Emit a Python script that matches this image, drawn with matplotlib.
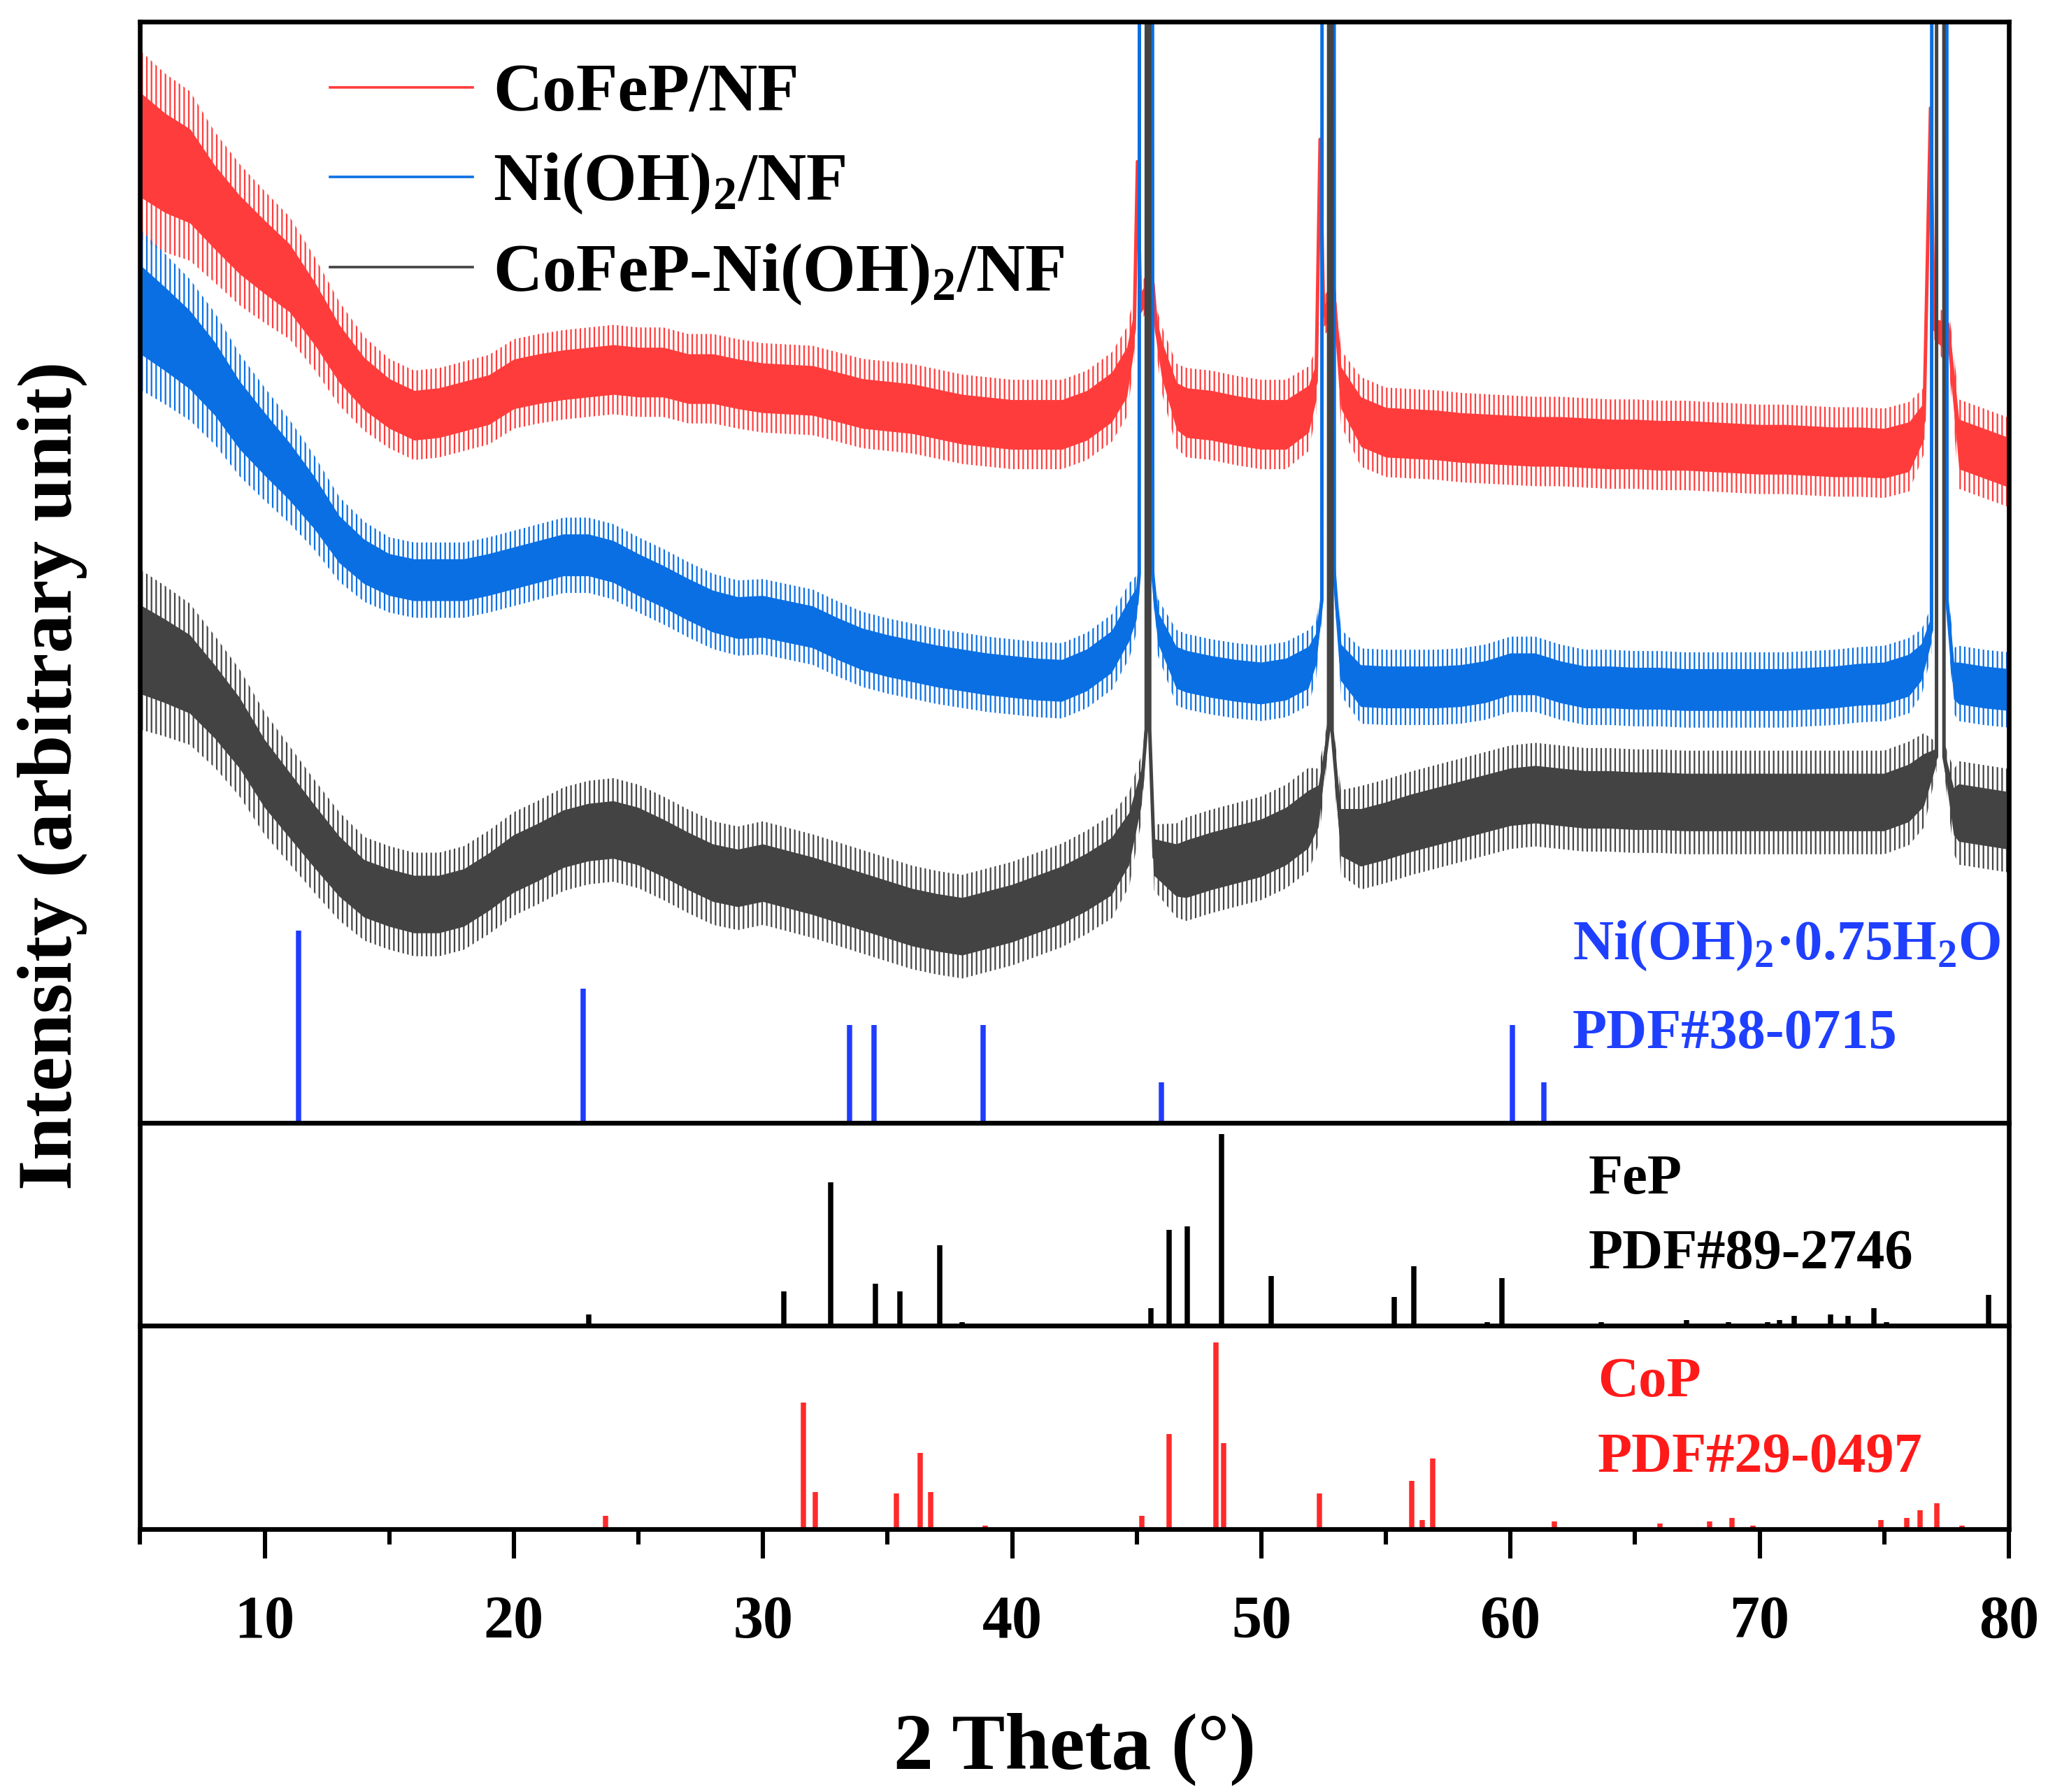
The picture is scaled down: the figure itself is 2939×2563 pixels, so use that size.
import numpy as np
import matplotlib
matplotlib.use("Agg")
import matplotlib.pyplot as plt
from matplotlib.lines import Line2D
from matplotlib.ticker import MultipleLocator

# 字体：Times 风格加粗
plt.rcParams['font.family'] = ['Liberation Serif', 'DejaVu Serif']
plt.rcParams['font.weight'] = 'bold'
plt.rcParams['axes.labelweight'] = 'bold'
plt.rcParams['mathtext.fontset'] = 'custom'
plt.rcParams['mathtext.rm'] = 'Liberation Serif:bold'
plt.rcParams['mathtext.it'] = 'Liberation Serif:bold'
plt.rcParams['mathtext.bf'] = 'Liberation Serif:bold'
plt.rcParams['hatch.linewidth'] = 0.8

# ---------------- 数据 ----------------
# CoFeP/NF
red_x = [5, 6, 7, 8, 9, 10, 11, 12, 13, 14, 15, 16, 17, 18, 19, 20, 21, 22, 23, 24,
         25, 26, 27, 28, 29, 30, 31, 32, 33, 34, 35, 36, 37, 38, 39, 40, 41, 42, 43, 44,
         44.6, 44.9, 45.03, 45.15, 45.65, 45.8, 46.0, 46.6,
         47, 48, 49, 50, 51,
         51.9, 52.2, 52.36, 52.5, 52.95, 53.2,
         54, 55, 56, 57, 58, 59, 60, 61, 62, 63, 64, 65, 66, 67, 68, 69, 70, 71, 72, 73, 74, 75, 76,
         76.6, 76.86, 77.0, 77.6,
         78, 79, 80]
red_y = [748, 734, 724, 700, 679, 662, 646, 619, 588, 565, 550, 541, 543, 548, 553, 565, 569, 572, 574, 576,
         574, 574, 569, 569, 565, 562, 561, 560, 555, 550, 548, 546, 542, 538, 536, 534, 534, 534, 541, 555,
         574, 607, 735, 627, 642, 605, 584, 548,
         543, 541, 537, 534, 534,
         546, 567, 752, 617, 627, 562,
         536, 528, 527, 526, 524, 523, 522, 521, 521, 520, 519, 519, 518, 518, 517, 516, 515, 515, 514, 513, 513, 512, 517,
         537, 776, 607, 600,
         519, 512, 505]
red_noise = ([40, 38, 36, 32, 30, 28, 26, 24, 22, 20] + [19] * 30
             + [19, 14, 3, 8, 8, 10, 14, 18] + [19] * 5
             + [18, 14, 3, 8, 10, 16] + [19] * 23
             + [14, 3, 8, 12] + [19] * 3)

# Ni(OH)2/NF
blue_x = [5, 6, 7, 8, 9, 10, 11, 12, 13, 14, 15, 16, 17, 18, 19, 20, 21, 22, 23, 24,
          25, 26, 27, 28, 29, 30, 31, 32, 33, 34, 35, 36, 37, 38, 39, 40, 41, 42, 43, 44,
          44.7, 45.0, 45.1, 45.14, 45.37, 45.6, 45.64, 45.85, 46.6,
          47, 48, 49, 50, 51,
          51.9, 52.2, 52.43, 52.47, 52.68, 52.89, 52.93, 53.2,
          54, 55, 56, 57, 58, 59, 60, 61, 62, 63, 64, 65, 66, 67, 68, 69, 70, 71, 72, 73, 74, 75, 76,
          76.5, 76.9, 76.95, 77.2, 77.48, 77.52, 77.8,
          78, 79, 80]
blue_y = [622, 607, 591, 569, 541, 519, 498, 474, 446, 429, 419, 415, 415, 415, 419, 424, 429, 434, 434, 429,
          419, 410, 400, 391, 386, 387, 383, 379, 370, 362, 357, 353, 349, 346, 343, 341, 339, 338, 346, 360,
          384, 397, 420, 3000, 12000, 3000, 420, 379, 348,
          345, 341, 338, 336, 339,
          348, 362, 400, 3000, 12000, 3000, 420, 352,
          334, 333, 333, 333, 334, 337, 343, 343, 337, 333, 333, 332, 332, 331, 331, 331, 331, 331, 332, 333, 335, 336, 342,
          352, 377, 3000, 12000, 3000, 400, 338,
          336, 333, 331]
blue_noise = ([34, 32, 30, 28, 26, 24, 22, 20, 18, 17] + [16] * 30
              + [16, 12, 8, 0, 0, 0, 8, 12, 16] + [16] * 5
              + [16, 12, 8, 0, 0, 0, 8, 14] + [16] * 23
              + [14, 10, 0, 0, 0, 8, 14] + [16] * 3)

# CoFeP-Ni(OH)2/NF
gray_x = [5, 6, 7, 8, 9, 10, 11, 12, 13, 14, 15, 16, 17, 18, 19, 20, 21, 22, 23, 24,
          25, 26, 27, 28, 29, 30, 31, 32, 33, 34, 35, 36, 37, 38, 39, 40, 41, 42, 43, 44,
          44.7, 45.2, 45.38, 45.45, 45.52, 45.7, 46.6,
          47, 48, 49, 50, 51,
          51.9, 52.3, 52.7, 52.77, 52.84, 53.2,
          54, 55, 56, 57, 58, 59, 60, 61, 62, 63, 64, 65, 66, 67, 68, 69, 70, 71, 72, 73, 74, 75, 76,
          76.6, 77.1, 77.16, 77.34, 77.4, 77.8,
          78, 79, 80]
gray_y = [362, 353, 343, 322, 298, 267, 243, 219, 196, 179, 172, 167, 167, 172, 184, 198, 207, 217, 222, 224,
          219, 210, 200, 191, 187, 191, 186, 181, 175, 169, 163, 157, 153, 150, 155, 160, 167, 174, 184, 196,
          217, 257, 300, 12000, 300, 203, 193,
          194, 200, 205, 210, 219,
          232, 242, 300, 12000, 300, 222,
          218, 223, 229, 234, 239, 244, 249, 251, 249, 247, 247, 246, 246, 245, 245, 245, 245, 245, 245, 245, 245, 245, 252,
          262, 280, 12000, 12000, 280, 238,
          237, 234, 231]
gray_noise = ([34, 32, 30, 28, 27, 26, 25, 24, 23, 22] + [22] * 30
              + [20, 14, 6, 0, 6, 14, 20] + [22] * 5
              + [22, 16, 6, 0, 6, 18] + [22] * 23
              + [20, 6, 0, 0, 6, 18] + [22] * 3)

# 标准卡片
ni_pos = [11.37, 22.78, 33.46, 34.46, 38.82, 45.98, 60.08, 61.34]
ni_int = [100, 70, 51, 51, 51, 21, 51, 21]

fep_pos = [23.0, 30.83, 32.72, 34.5, 35.5, 37.09, 38.0, 45.56, 46.29, 47.03, 48.4, 50.4,
           55.34, 56.13, 59.08, 59.66, 63.65, 67.07, 68.76, 70.33, 70.8, 71.38, 72.85,
           73.54, 74.59, 75.1, 79.2]
fep_int = [6, 18, 75, 22, 18, 42, 2, 9, 50, 52, 100, 26,
           15, 31, 2, 25, 2, 3, 2, 2, 3, 5, 6,
           5, 9, 2, 16]

cop_pos = [23.68, 31.62, 32.09, 35.36, 36.3, 36.72, 38.93, 45.19, 46.29, 48.19, 48.5,
           52.34, 56.03, 56.45, 56.87, 61.76, 66.0, 68.0, 68.9, 69.74, 74.86, 75.91,
           76.44, 77.12, 78.12]
cop_int = [7, 68, 20, 19, 41, 20, 2, 7, 51, 100, 46,
           19, 26, 5, 38, 4, 3, 4, 6, 2, 5, 6,
           10, 14, 2]

labels = ['CoFeP/NF', 'Ni(OH)$_2$/NF', 'CoFeP-Ni(OH)$_2$/NF']
c_red, c_blue, c_gray = '#ff3c3c', '#0a6fe3', '#434343'

# ---------------- 画图 ----------------
fig = plt.figure(figsize=(14.695, 12.815), dpi=200)
ax_top = fig.add_axes([0.0682, 0.3734, 0.9093, 0.6145])
ax_mid = fig.add_axes([0.0682, 0.2602, 0.9093, 0.1132])
ax_bot = fig.add_axes([0.0682, 0.1467, 0.9093, 0.1135])

for xs, ys, ns, c in [(red_x, red_y, red_noise, c_red),
                      (blue_x, blue_y, blue_noise, c_blue),
                      (gray_x, gray_y, gray_noise, c_gray)]:
    xs = np.array(xs)
    ys = np.array(ys, dtype=float)
    ns = np.array(ns, dtype=float)
    # 外圈毛刺：竖线阴影
    ax_top.fill_between(xs, ys - ns * 1.8, ys + ns * 1.8, facecolor='none',
                        edgecolor=c, hatch='|||||', lw=0)
    ax_top.fill_between(xs, ys - ns, ys + ns, color=c, lw=0)
    ax_top.plot(xs, ys, color=c, lw=1.8)

ax_top.vlines(ni_pos, 0, np.array(ni_int) * 1.47, color='#1f3cff', lw=2.7)
ax_top.set_ylim(0, 842)

ax_mid.vlines(fep_pos, 0, fep_int, color='black', lw=2.7)
ax_mid.set_ylim(0, 106)

ax_bot.vlines(cop_pos, 0, cop_int, color='#ff2a2a', lw=2.7)
ax_bot.set_ylim(0, 109)

for ax in (ax_top, ax_mid, ax_bot):
    ax.set_xlim(5, 80)
    for s in ax.spines.values():
        s.set_linewidth(2.4)
    ax.tick_params(axis='y', left=False, labelleft=False)

for ax in (ax_top, ax_mid):
    ax.tick_params(axis='x', which='both', bottom=False, labelbottom=False)

ax_bot.set_xticks([10, 20, 30, 40, 50, 60, 70, 80])
ax_bot.xaxis.set_minor_locator(MultipleLocator(5))
ax_bot.tick_params(axis='x', which='major', direction='out', length=15, width=2.2,
                   labelsize=31, pad=19)
ax_bot.tick_params(axis='x', which='minor', direction='out', length=8, width=2.2)
ax_bot.set_xlabel('2 Theta (°)', fontsize=41, fontweight='bold', labelpad=32)

fig.text(0.0255, 0.567, 'Intensity (arbitrary unit)', rotation=90,
         fontsize=40, ha='center', va='center')

# 图例
handles = [Line2D([], [], color=c, lw=1.3) for c in (c_red, c_blue, c_gray)]
ax_top.legend(handles, labels, loc='upper left', bbox_to_anchor=(0.1016, 0.962),
              frameon=False, fontsize=35, handlelength=2.1, handletextpad=0.3,
              labelspacing=0.38, borderpad=0, borderaxespad=0)

# 卡片标注
ax_top.text(0.7665, 0.1606, 'Ni(OH)$_2$·0.75H$_2$O', color='#1f3fff', fontsize=29,
            transform=ax_top.transAxes, va='center')
ax_top.text(0.7665, 0.080, 'PDF#38-0715', color='#1f3fff', fontsize=29,
            transform=ax_top.transAxes, va='center')
ax_mid.text(0.775, 0.72, 'FeP', color='black', fontsize=29,
            transform=ax_mid.transAxes, va='center')
ax_mid.text(0.775, 0.35, 'PDF#89-2746', color='black', fontsize=29,
            transform=ax_mid.transAxes, va='center')
ax_bot.text(0.780, 0.72, 'CoP', color='#ff1a1a', fontsize=29,
            transform=ax_bot.transAxes, va='center')
ax_bot.text(0.780, 0.35, 'PDF#29-0497', color='#ff1a1a', fontsize=29,
            transform=ax_bot.transAxes, va='center')

plt.savefig('out.png', dpi=200)
